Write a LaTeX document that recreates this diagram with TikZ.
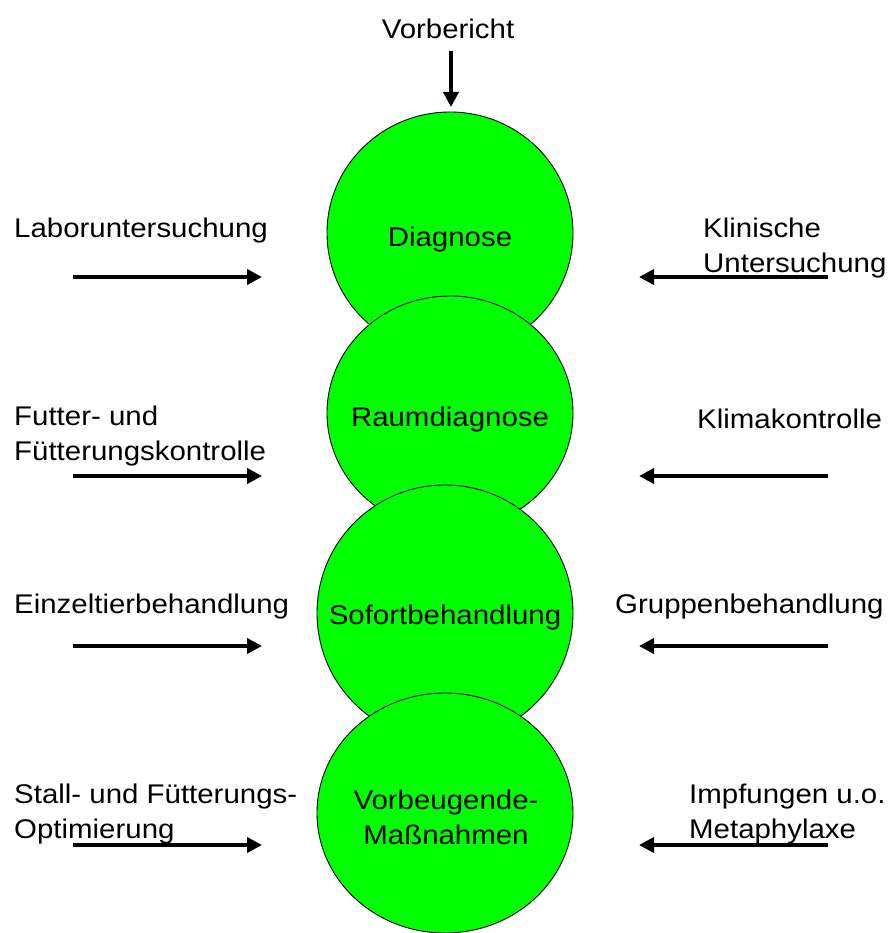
\documentclass[tikz,border=0pt]{standalone}
\usepackage{fontspec}
\setmainfont{Liberation Sans}
\usetikzlibrary{arrows.meta,shapes.geometric}
\definecolor{ballgreen}{RGB}{0,255,0}
\newcommand{\sxt}[1]{\scalebox{1.09}[1]{#1}}
\tikzset{
  ball/.style={ellipse, draw=black, line width=0.9pt, fill=ballgreen, inner sep=0pt},
  lbl/.style={inner sep=0pt, font=\fontsize{27}{35}\selectfont},
  arr/.style={line width=4.5pt, -{Triangle[length=15pt,width=15pt]}},
}
\begin{document}
\begin{tikzpicture}[x=1pt,y=-1pt]
\useasboundingbox (0,0) rectangle (889,933);

% circles
\node[ball, minimum width=246, minimum height=242] (c1) at (450,233) {};
\node[ball, minimum width=246, minimum height=234] (c2) at (450,413) {};
\node[ball, minimum width=256, minimum height=256] (c3) at (445,613) {};
\node[ball, minimum width=256, minimum height=240] (c4) at (445,813) {};

% circle labels
\node[lbl, anchor=base] (t1) at (450,247) {\sxt{Diagnose}};
\node[lbl, anchor=base] (t2) at (450,426) {\sxt{Raumdiagnose}};
\node[lbl, anchor=base] (t3) at (445,624) {\sxt{Sofortbehandlung}};
\node[lbl, anchor=base] (t4) at (446,809) {\sxt{\begin{tabular}[t]{@{}c@{}}Vorbeugende-\\Maßnahmen\end{tabular}}};

% top
\node[lbl, anchor=base] (vb) at (448,39) {\sxt{Vorbericht}};
\coordinate (vbs) at (451,51);
\coordinate (vbe) at (451,107);
\draw[arr] (vbs) -- (vbe);

% left labels
\node[lbl, anchor=base west] (l1) at (14,237) {\sxt{Laboruntersuchung}};
\node[lbl, anchor=base west] (l2) at (14,425) {\sxt{\begin{tabular}[t]{@{}l@{}}Futter- und\\Fütterungskontrolle\end{tabular}}};
\node[lbl, anchor=base west] (l3) at (14,613) {\sxt{Einzeltierbehandlung}};
\node[lbl, anchor=base west] (l4) at (14,803) {\sxt{\begin{tabular}[t]{@{}l@{}}Stall- und Fütterungs-\\Optimierung\end{tabular}}};

% right labels
\node[lbl, anchor=base west] (r1) at (703,237) {\sxt{\begin{tabular}[t]{@{}l@{}}Klinische\\Untersuchung\end{tabular}}};
\node[lbl, anchor=base west] (r2) at (697,428) {\sxt{Klimakontrolle}};
\node[lbl, anchor=base west] (r3) at (615,613) {\sxt{Gruppenbehandlung}};
\node[lbl, anchor=base west] (r4) at (689,803) {\sxt{\begin{tabular}[t]{@{}l@{}}Impfungen u.o.\\Metaphylaxe\end{tabular}}};

% left arrows
\coordinate (la1s) at (73,277);  \coordinate (la1e) at (262,277);
\coordinate (la2s) at (73,476);  \coordinate (la2e) at (262,476);
\coordinate (la3s) at (73,646);  \coordinate (la3e) at (262,646);
\coordinate (la4s) at (73,845);  \coordinate (la4e) at (262,845);
\draw[arr] (la1s) -- (la1e);
\draw[arr] (la2s) -- (la2e);
\draw[arr] (la3s) -- (la3e);
\draw[arr] (la4s) -- (la4e);

% right arrows
\coordinate (ra1s) at (828,277);  \coordinate (ra1e) at (639,277);
\coordinate (ra2s) at (828,476);  \coordinate (ra2e) at (639,476);
\coordinate (ra3s) at (828,646);  \coordinate (ra3e) at (639,646);
\coordinate (ra4s) at (828,845);  \coordinate (ra4e) at (639,845);
\draw[arr] (ra1s) -- (ra1e);
\draw[arr] (ra2s) -- (ra2e);
\draw[arr] (ra3s) -- (ra3e);
\draw[arr] (ra4s) -- (ra4e);
\end{tikzpicture}
\end{document}
